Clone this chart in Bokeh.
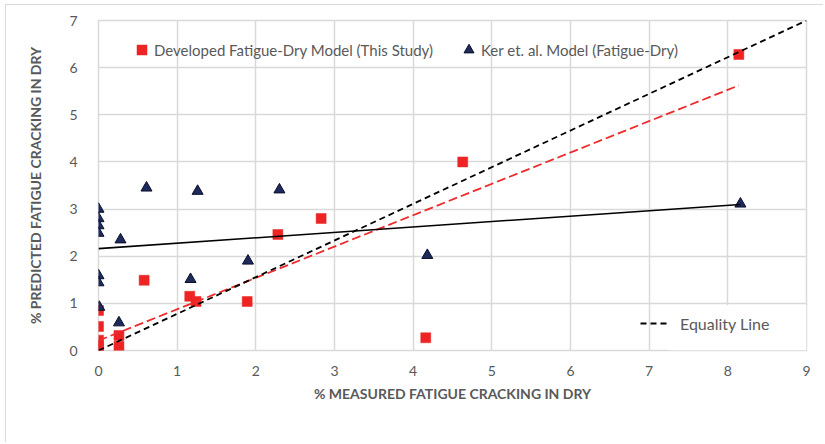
from bokeh.plotting import figure
from bokeh.models import Legend, LegendItem, BoxAnnotation, Range1d, FixedTicker
from bokeh.embed import file_html
from bokeh.resources import INLINE

# ---- data ----
dev_x = [0.0, 0.0, 0.0, 0.0, 0.0, 0.26, 0.26, 0.58, 1.16, 1.24, 1.89, 2.28, 2.83, 4.16, 4.63, 8.14]
dev_y = [0.85, 0.51, 0.22, 0.10, 0.02, 0.32, 0.09, 1.49, 1.15, 1.04, 1.04, 2.46, 2.80, 0.27, 4.00, 6.28]

ker_x = [0.0, 0.0, 0.0, 0.0, 0.0, 0.0, 0.01, 0.26, 0.28, 0.61, 1.17, 1.26, 1.90, 2.30, 4.18, 8.16]
ker_y = [3.00, 2.80, 2.65, 2.49, 1.59, 1.44, 0.92, 0.59, 2.35, 3.45, 1.51, 3.38, 1.90, 3.41, 2.02, 3.11]

dev_trend_intercept, dev_trend_slope = 0.21, 0.665
ker_trend_intercept, ker_trend_slope = 2.16, 0.115

eq_x = [0, 9]
eq_y = [0, 7]

x_ticks = [0, 1, 2, 3, 4, 5, 6, 7, 8, 9]
y_ticks = [0, 1, 2, 3, 4, 5, 6, 7]

dev_label = "Developed Fatigue-Dry Model (This Study)"
ker_label = "Ker et. al. Model (Fatigue-Dry)"
eq_label = "Equality Line"
x_title = "% MEASURED FATIGUE CRACKING IN DRY"
y_title = "% PREDICTED FATIGUE CRACKING IN DRY"

FONT = "Lato"
GRAY = "#595959"
GRID = "#d9d9d9"

p = figure(width=818, height=438, output_backend="svg", toolbar_location=None,
           x_range=Range1d(0, 9), y_range=Range1d(0, 7),
           min_border_left=92, min_border_right=18, min_border_top=15, min_border_bottom=93,
           styles={"position": "relative", "left": "5px", "top": "4px",
                   "border-left": "1px solid #d9d9d9", "border-top": "1px solid #d9d9d9"})
p.background_fill_color = "white"
p.border_fill_color = "white"
p.outline_line_color = GRID
p.outline_line_width = 1.5

p.xaxis.ticker = FixedTicker(ticks=x_ticks)
p.yaxis.ticker = FixedTicker(ticks=y_ticks)
for ax in (p.xaxis, p.yaxis):
    ax.axis_line_color = None
    ax.major_tick_line_color = None
    ax.minor_tick_line_color = None
    ax.major_label_text_font = FONT
    ax.major_label_text_font_size = "14px"
    ax.major_label_text_color = GRAY
    ax.axis_label_text_font = FONT
    ax.axis_label_text_font_size = "14px"
    ax.axis_label_text_font_style = "bold"
    ax.axis_label_text_color = GRAY
p.xaxis.axis_label = x_title
p.yaxis.axis_label = y_title
p.xaxis.major_label_standoff = 9
p.yaxis.major_label_standoff = 15
p.xaxis.axis_label_standoff = 6
p.yaxis.axis_label_standoff = 22

p.grid.grid_line_color = GRID
p.grid.grid_line_width = 1.5

r_dev = p.scatter(dev_x, dev_y, marker="square", size=10,
                  fill_color="#ee2424", line_color="#ee2424", line_width=0.5)
r_ker = p.scatter(ker_x, ker_y, marker="triangle", size=11,
                  fill_color="#1f2a5c", line_color="#0a0f2a", line_width=1)

# trend lines
dxl = [min(dev_x), max(dev_x)]
p.line(dxl, [dev_trend_intercept + dev_trend_slope * v for v in dxl],
       line_color="#ee2a2a", line_width=1.8, line_dash="9 4")
kxl = [min(ker_x), max(ker_x)]
p.line(kxl, [ker_trend_intercept + ker_trend_slope * v for v in kxl],
       line_color="black", line_width=1.6)
r_eq = p.line(eq_x, eq_y, line_color="black", line_width=1.8, line_dash="6 4")

# white box behind the equality-line legend
p.add_layout(BoxAnnotation(left=7.24, right=9, bottom=0, top=0.96,
                           fill_color="white", fill_alpha=1, line_color=None))

top_legend = Legend(items=[LegendItem(label=dev_label, renderers=[r_dev]),
                           LegendItem(label=ker_label, renderers=[r_ker])],
                    orientation="horizontal", location=(31, 288),
                    padding=0, margin=0, spacing=23, glyph_width=25, glyph_height=25,
                    label_height=25, label_standoff=0,
                    label_text_font=FONT, label_text_font_size="15px", label_text_color=GRAY,
                    background_fill_alpha=0, border_line_color=None)
p.add_layout(top_legend, "center")

eq_legend = Legend(items=[LegendItem(label=eq_label, renderers=[r_eq])],
                   location=(542, 17), padding=0, margin=0, glyph_width=30, glyph_height=20,
                   label_height=20, label_standoff=10,
                   label_text_font=FONT, label_text_font_size="16px", label_text_color=GRAY,
                   background_fill_alpha=0, border_line_color=None)
p.add_layout(eq_legend, "center")

open("out.html", "w").write(file_html(p, INLINE))
